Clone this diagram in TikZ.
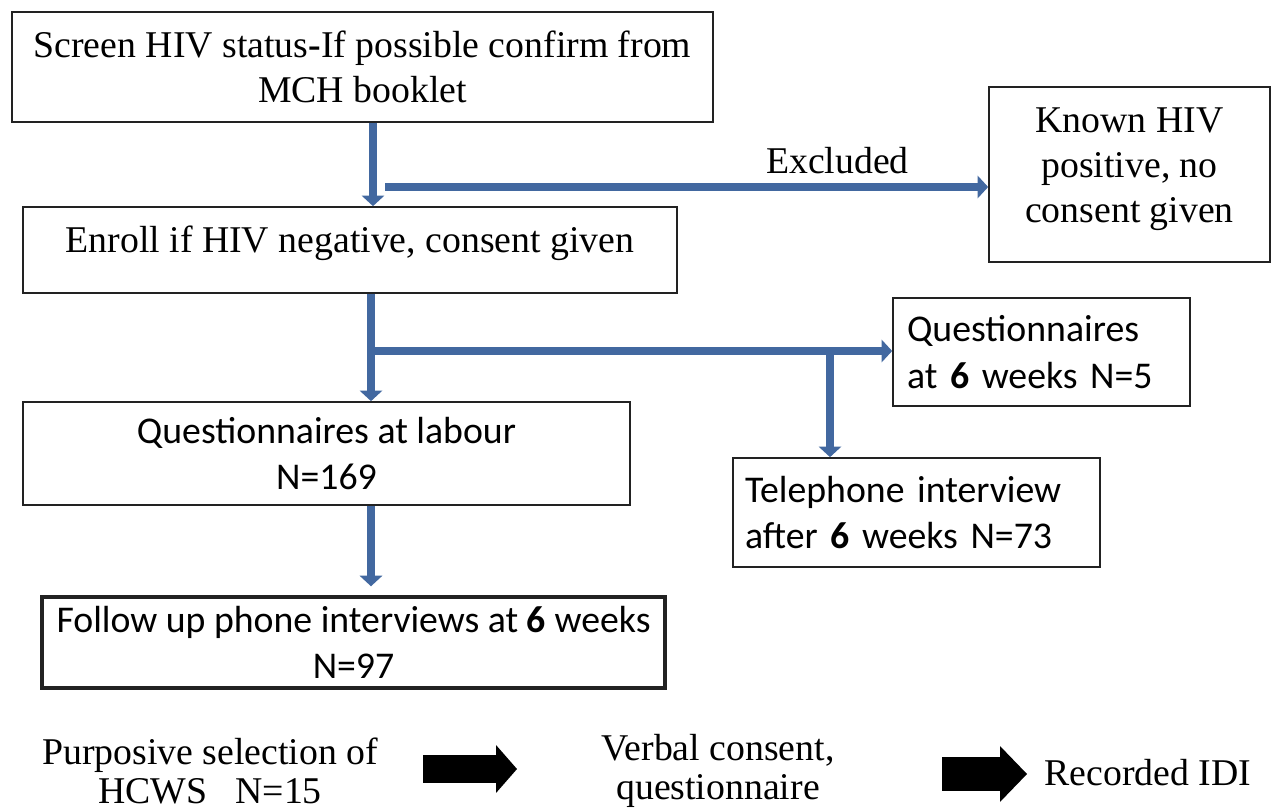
\documentclass[tikz,border=0pt]{standalone}
\usepackage{fontspec}
\setmainfont{Liberation Serif}
\setsansfont{Carlito}
\usepackage{xcolor}
\definecolor{flowblue}{RGB}{66,104,160}
\definecolor{boxgray}{HTML}{222222}
\usepackage{tikz}
\usetikzlibrary{arrows.meta, positioning}

\begin{document}
\begin{tikzpicture}[
    x=0.02cm, y=-0.02cm,
    box/.style={rectangle, draw=boxgray, line width=1pt, fill=white, align=center, inner sep=0pt},
    rmtext/.style={font=\fontsize{21.5}{25.5}\selectfont\rmfamily},
    sftext/.style={font=\fontsize{21.5}{26.5}\selectfont\sffamily},
    foot/.style={font=\fontsize{21.5}{22.5}\selectfont\rmfamily, align=center},
    flow/.style={-{Triangle[length=6pt, width=13pt, line width=0pt]}, line width=4pt, color=flowblue},
    blockarr/.style={draw=black, line cap=butt},
]
    \useasboundingbox (0,0) rectangle (1275,811);

    \node[box, rmtext, minimum width=14.02cm, minimum height=2.2cm] (scr) at (362.5,67)
        {Screen HIV status\textbf{-}If possible confirm from\\MCH booklet};
    \node[box, rmtext, text depth=0.45cm, minimum width=13.08cm, minimum height=1.72cm] (enr) at (350,250)
        {Enroll if HIV negative, consent given};
    \node[box, rmtext, text depth=0.37cm, minimum width=5.62cm, minimum height=3.5cm] (exc) at (1129.5,174.5)
        {Known HIV\\positive, no\\consent given};
    \node[box, sftext, align=left, text width=5.38cm, inner xsep=0.28cm, minimum height=2.16cm] (q6) at (1041.5,352)
        {Questionnaires\\at \textbf{6} weeks N=5};
    \node[box, sftext, minimum width=12.14cm, minimum height=2.06cm] (lab) at (326.5,453.5)
        {Questionnaires at labour\\N=169};
    \node[box, sftext, align=left, text width=6.86cm, inner xsep=0.24cm, minimum height=2.18cm] (tel) at (916.5,512.5)
        {Telephone interview\\after \textbf{6} weeks N=73};
    \node[box, sftext, line width=2pt, minimum width=12.46cm, minimum height=1.82cm] (fol) at (353.5,642.5)
        {Follow up phone interviews at \textbf{6} weeks\\N=97};

    % Spine coordinates
    \coordinate (sp1) at (373,0);
    \coordinate (sp2) at (371,0);
    \coordinate (exs) at (385,187);
    \coordinate (br1) at (371,351);
    \coordinate (br2) at (830,351);

    \draw[flow] (scr.south -| sp1) -- (enr.north -| sp1);
    \draw[flow] (exs) -- (exs -| exc.west)
        node[rmtext, text=black, pos=0.75, above=2pt] (exl) {Excluded};
    \draw[flow] (enr.south -| sp2) -- (lab.north -| sp2);
    \draw[flow] (br1) -- (br1 -| q6.west);
    \draw[flow] (br2) -- (br2 |- tel.north);
    \draw[flow, shorten >=0.18cm] (lab.south -| sp2) -- (fol.north -| sp2);

    % IDI steps
    \node[foot] (sel) at (210,771) {Purposive selection of\\HCWS\ \ \ N=15};
    \node[foot] (cons) at (718,771) {Verbal consent,\\questionnaire};
    \node[foot] (idi) at (1148,773) {Recorded IDI};

    \coordinate (b1s) at (423,769);
    \coordinate (b1e) at (517,769);
    \coordinate (b2s) at (942,774);
    \coordinate (b2e) at (1027,774);
    \draw[blockarr, line width=16.4pt, -{Triangle[length=11.9pt, width=27.2pt, line width=0pt]}] (b1s) -- (b1e);
    \draw[blockarr, line width=19.8pt, -{Triangle[length=15.3pt, width=31.7pt, line width=0pt]}] (b2s) -- (b2e);
\end{tikzpicture}
\end{document}
